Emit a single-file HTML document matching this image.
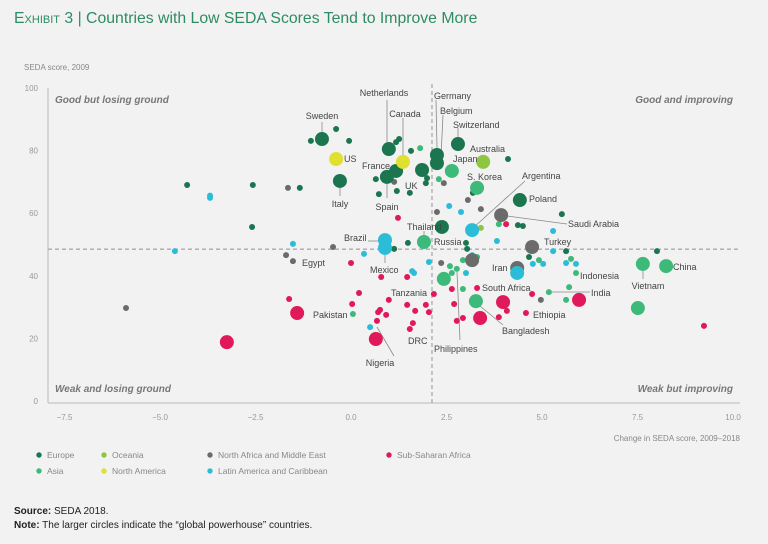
<!DOCTYPE html>
<html><head><meta charset="utf-8"><style>
body{margin:0;background:#f2f2f2;width:768px;height:544px;overflow:hidden;font-family:"Liberation Sans",sans-serif}
#title{position:absolute;left:14px;top:10px;font-size:15.8px;color:#2e8c64;white-space:nowrap}
#title .sc{font-variant:small-caps}
.foot{position:absolute;left:14px;font-size:10px;color:#222}
</style></head><body>
<div id="title"><span class="sc">Exhibit</span> 3 | Countries with Low SEDA Scores Tend to Improve More</div>
<svg id="chart" width="768" height="544" style="position:absolute;left:0;top:0"></svg>
<div class="foot" style="top:506px"><b>Source:</b> SEDA 2018.</div>
<div class="foot" style="top:520px"><b>Note:</b> The larger circles indicate the “global powerhouse” countries.</div>
<script>
const xTicks=[-7.5,-5.0,-2.5,0.0,2.5,5.0,7.5,10.0];
const yTicks=[0,20,40,60,80,100];
const xMid=2.12, yMid=48.5;
const regions=["Europe","Asia","Oceania","North America","North Africa and Middle East","Latin America and Caribbean","Sub-Saharan Africa"];
const europeBig=[[-0.76,83.7],[0.99,80.5],[1.18,73.5],[0.94,71.6],[-0.29,70.3],[1.86,73.8],[2.25,78.6],[2.25,76.0],[2.80,82.1],[4.42,64.2],[2.38,55.6]];
const europeSmall=[[-1.05,83.1],[-0.39,86.9],[-0.05,83.1],[-4.29,69.0],[-2.57,69.0],[-1.34,68.1],[-2.59,55.6],[1.18,82.7],[1.26,83.7],[1.57,79.9],[0.65,70.9],[0.73,66.1],[1.20,67.1],[1.54,66.5],[1.99,71.2],[1.96,69.6],[1.49,50.5],[1.13,48.6],[4.11,77.3],[3.19,66.5],[4.37,56.2],[4.50,55.9],[5.52,59.7],[3.01,50.5],[3.04,48.6],[4.66,46.0],[5.63,47.9],[8.01,47.9]];
const asiaBig=[[2.64,73.5],[3.30,68.1],[1.91,50.8],[7.64,43.8],[8.25,43.1],[3.27,31.9],[2.43,39.0],[7.51,29.7]];
const asiaSmall=[[1.81,80.8],[2.30,70.9],[3.87,56.5],[2.59,43.1],[2.64,40.9],[2.77,42.2],[2.93,35.8],[2.93,45.0],[3.30,46.0],[4.92,45.0],[5.76,45.4],[5.89,40.9],[5.18,34.8],[5.71,36.4],[5.63,32.3],[0.05,27.8]];
const oceaniaBig=[[3.46,76.4]];
const oceaniaSmall=[[3.40,55.3]];
const namBig=[[-0.39,77.3],[1.36,76.4]];
const nameBig=[[3.93,59.4],[4.74,49.2],[4.35,42.5],[3.17,45.0]];
const nameSmall=[[-5.89,29.7],[-1.65,68.1],[-1.70,46.6],[-1.52,44.7],[-0.47,49.2],[1.13,70.0],[2.43,69.6],[3.06,64.2],[2.25,60.4],[3.40,61.3],[2.36,44.1],[4.97,32.3]];
const latamBig=[[0.89,51.4],[0.89,48.9],[3.17,54.6],[4.35,40.9]];
const latamSmall=[[-3.69,64.9],[-3.69,65.6],[-4.61,47.9],[-1.52,50.2],[0.34,47.0],[2.04,44.4],[1.60,41.5],[1.65,40.9],[0.50,23.6],[2.57,62.3],[2.88,60.4],[3.82,51.1],[5.29,54.3],[5.29,47.9],[4.76,43.8],[5.03,43.8],[5.63,44.1],[5.89,43.8],[3.01,40.9],[3.17,46.6]];
const ssaBig=[[0.65,19.8],[-1.41,28.1],[-3.25,18.8],[3.98,31.6],[3.38,26.5],[5.97,32.3]];
const ssaSmall=[[1.23,58.5],[0,44.1],[0.79,39.6],[1.47,39.6],[0.21,34.5],[-1.62,32.6],[0.03,31.0],[0.99,32.3],[1.47,30.7],[1.68,28.8],[1.96,30.7],[2.04,28.4],[2.17,34.2],[0.71,28.4],[0.76,29.1],[0.92,27.5],[0.68,25.6],[1.62,24.9],[1.54,23.0],[2.64,35.8],[2.70,31.0],[2.77,25.6],[2.93,26.5],[3.30,36.1],[4.08,28.8],[3.87,26.8],[4.58,28.1],[4.74,34.2],[9.24,24.0],[4.06,56.5]];

const NS="http://www.w3.org/2000/svg";
const svg=document.getElementById('chart');
const X=v=>351+v*38.2, Y=v=>401-v*3.13;
const colors={"Europe":"#1b7650","Asia":"#3dba7a","Oceania":"#8dc63f","North America":"#dfe030","North Africa and Middle East":"#6b6b6b","Latin America and Caribbean":"#2bbcd8","Sub-Saharan Africa":"#e0195a"};
function mk(tag,attrs,parent){const e=document.createElementNS(NS,tag);for(const k in attrs)e.setAttribute(k,attrs[k]);(parent||svg).appendChild(e);return e;}
function txt(s,x,y,attrs){const t=mk('text',Object.assign({x:x,y:y},attrs));t.textContent=s;return t;}

let ax=mk('line',{x1:48,y1:88,x2:48,y2:403,stroke:'#bbb','stroke-width':1});


let bx=mk('line',{x1:48,y1:403,x2:740,y2:403,stroke:'#bbb','stroke-width':1});


yTicks.forEach(v=>{const t=txt(String(v),38,Y(v)+3,{'font-size':8,fill:'#999','text-anchor':'end'});

});
xTicks.forEach(v=>{const t=txt(v.toFixed(1).replace('-','−'),X(v),420,{'font-size':8,fill:'#999','text-anchor':'middle'});

});
let yt=txt('SEDA score, 2009',24,70,{'font-size':8,fill:'#888'});


let xt=txt('Change in SEDA score, 2009–2018',740,441,{'font-size':8,fill:'#888','text-anchor':'end'});


let vl=mk('line',{x1:X(xMid),y1:84,x2:X(xMid),y2:403,stroke:'#aaa','stroke-width':1.3,'stroke-dasharray':'4,3'});


let hl=mk('line',{x1:48,y1:Y(yMid),x2:740,y2:Y(yMid),stroke:'#aaa','stroke-width':1.3,'stroke-dasharray':'4,3'});


[['Good but losing ground',55,103,'start'],['Good and improving',733,103,'end'],['Weak and losing ground',55,392,'start'],['Weak but improving',733,392,'end']].forEach(q=>{
const t=txt(q[0],q[1],q[2],{'font-size':10,'font-weight':'bold','font-style':'italic',fill:'#777','text-anchor':q[3]});

});

const leaders=[[322,122,322,132],[387,100,387,142],[403,118,403,155],[436,100,437,148],[443,115,441,157],[458,128,458,137],[525,181,473,228],[507,216,567,224],[643,270,643,279],[549,292,590,292],[480,306,503,325],[457,272,460,340],[377,327,394,356],[424,231,424,236],[368,241,378,241],[385,255,385,263],[387,180,387,198],[340,188,340,196]];
leaders.forEach(l=>{const e=mk('line',{x1:l[0],y1:l[1],x2:l[2],y2:l[3],stroke:'#888','stroke-width':0.8});

});

function plot(arr,region,r,name){arr.forEach(p=>{const c=mk('circle',{cx:X(p[0]),cy:Y(p[1]),r:r,fill:colors[region]});

});}
plot(europeSmall,"Europe",3,'point-europe');
plot(asiaSmall,"Asia",3,'point-asia');
plot(oceaniaSmall,"Oceania",3,'point-oceania');
plot(nameSmall,"North Africa and Middle East",3,'point-mena');
plot(latamSmall,"Latin America and Caribbean",3,'point-latam');
plot(ssaSmall,"Sub-Saharan Africa",3,'point-ssa');
plot(europeBig,"Europe",7,'powerhouse-europe');
plot(asiaBig,"Asia",7,'powerhouse-asia');
plot(oceaniaBig,"Oceania",7,'powerhouse-oceania');
plot(namBig,"North America",7,'powerhouse-north-america');
plot(nameBig,"North Africa and Middle East",7,'powerhouse-mena');
plot(latamBig,"Latin America and Caribbean",7,'powerhouse-latam');
plot(ssaBig,"Sub-Saharan Africa",7,'powerhouse-ssa');

const labels=[['Sweden',322,119,'middle'],['Netherlands',384,96,'middle'],['Canada',405,117,'middle'],['Germany',434,99,'start'],['Belgium',440,114,'start'],['Switzerland',453,128,'start'],['Australia',470,152,'start'],['Japan',453,162,'start'],['S. Korea',467,180,'start'],['Argentina',522,179,'start'],['Poland',529,202,'start'],['Saudi Arabia',568,227,'start'],['Turkey',544,245,'start'],['Indonesia',580,279,'start'],['China',673,270,'start'],['Vietnam',648,289,'middle'],['India',591,296,'start'],['Ethiopia',533,318,'start'],['Bangladesh',502,334,'start'],['South Africa',482,291,'start'],['Iran',492,271,'start'],['Philippines',434,352,'start'],['DRC',408,344,'start'],['Nigeria',380,366,'middle'],['Tanzania',391,296,'start'],['Pakistan',313,318,'start'],['Mexico',370,273,'start'],['Brazil',344,241,'start'],['Egypt',302,266,'start'],['Russia',434,245,'start'],['Thailand',407,230,'start'],['Spain',387,210,'middle'],['Italy',340,207,'middle'],['UK',405,189,'start'],['France',362,169,'start'],['US',344,162,'start']];
labels.forEach(l=>{const t=txt(l[0],l[1],l[2],{'font-size':9,fill:'#444','text-anchor':l[3]});

});

const legendPos=[[39,455],[39,471],[104,455],[104,471],[210,455],[210,471],[389,455]];
const legendOrder=["Europe","Asia","Oceania","North America","North Africa and Middle East","Latin America and Caribbean","Sub-Saharan Africa"];
legendOrder.forEach((r,i)=>{const g=mk('g',{});


mk('circle',{cx:legendPos[i][0],cy:legendPos[i][1],r:2.7,fill:colors[r]},g);
const t=mk('text',{x:legendPos[i][0]+8,y:legendPos[i][1]+3,'font-size':8.5,fill:'#888'},g);t.textContent=r;});
</script>
</body></html>
